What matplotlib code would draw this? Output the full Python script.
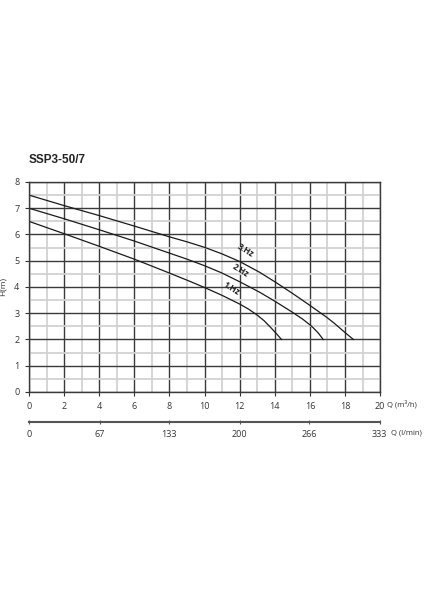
import matplotlib.pyplot as plt
from matplotlib.ticker import MultipleLocator

plt.rcParams['font.family'] = ['Open Sans', 'DejaVu Sans']

q_1hz = [0, 2, 4, 6, 8, 9, 10, 11, 12, 12.5, 13, 13.4, 13.75, 14.1, 14.38]
h_1hz = [6.5, 6.03, 5.55, 5.06, 4.53, 4.26, 3.98, 3.68, 3.35, 3.16, 2.93, 2.71, 2.47, 2.22, 2.0]

q_2hz = [0, 2, 4, 6, 8, 9, 10, 11, 12, 13.14, 14, 15, 15.6, 16, 16.2, 16.5, 16.76]
h_2hz = [7.0, 6.6, 6.18, 5.75, 5.29, 5.06, 4.81, 4.53, 4.2, 3.8, 3.46, 3.04, 2.77, 2.56, 2.44, 2.23, 2.0]

q_3hz = [0, 2, 4, 6, 8, 9, 10, 11, 12, 13.14, 14, 15, 16, 16.95, 17.35, 17.7, 18.1, 18.48]
h_3hz = [7.5, 7.1, 6.72, 6.32, 5.91, 5.72, 5.51, 5.26, 4.97, 4.56, 4.2, 3.76, 3.3, 2.85, 2.64, 2.44, 2.21, 2.0]

m3h_ticks = [0, 2, 4, 6, 8, 10, 12, 14, 16, 18, 20]
lmin_ticks = [0, 67, 133, 200, 266, 333]

fig = plt.figure(figsize=(4.24, 6.0), dpi=100)
ax = fig.add_axes([0.0684, 0.3467, 0.828, 0.35])

ax.set_xlim(0, 20)
ax.set_ylim(0, 8)
ax.xaxis.set_major_locator(MultipleLocator(2))
ax.xaxis.set_minor_locator(MultipleLocator(1))
ax.yaxis.set_major_locator(MultipleLocator(1))
ax.yaxis.set_minor_locator(MultipleLocator(0.5))
ax.grid(which='minor', color='#d2d2d2', linewidth=1.3)
ax.grid(which='major', color='#3a3a3a', linewidth=1.0)
ax.set_axisbelow(True)
for s in ax.spines.values():
    s.set_color('#3a3a3a')
    s.set_linewidth(1.0)

ax.tick_params(which='major', length=3, width=0.8, color='#333333',
               labelsize=6.5, labelcolor='#333333', pad=4)
ax.tick_params(which='minor', length=0)
ax.set_xticks(m3h_ticks)

for q, h in [(q_1hz, h_1hz), (q_2hz, h_2hz), (q_3hz, h_3hz)]:
    ax.plot(q, h, color='#1a1a1a', linewidth=0.9)

ax.text(12.35, 5.4, '3.Hz', rotation=-32, fontsize=6, fontweight='bold',
        color='#222222', ha='center', va='center')
ax.text(12.05, 4.62, '2.Hz', rotation=-32, fontsize=6, fontweight='bold',
        color='#222222', ha='center', va='center')
ax.text(11.55, 3.95, '1.Hz', rotation=-32, fontsize=6, fontweight='bold',
        color='#222222', ha='center', va='center')

ax.set_ylabel('H(m)', fontsize=6, color='#333333', labelpad=5)
ax.text(0, 8.6, 'SSP3-50/7', fontsize=8.5, fontweight='bold', color='#222222',
        family=['Liberation Sans', 'DejaVu Sans'], ha='left', va='bottom')

ax.text(20.4, -0.45, 'Q (m³/h)', fontsize=5.5, color='#333333', ha='left', va='center')

# second flow scale in l/min
ax2 = ax.secondary_xaxis(-0.143, functions=(lambda x: x * 50 / 3, lambda x: x * 3 / 50))
ax2.set_xticks(lmin_ticks)
ax2.set_xticklabels([str(v) for v in lmin_ticks])
ax2.spines['bottom'].set_color('#555555')
ax2.spines['bottom'].set_linewidth(1.5)
ax2.tick_params(length=3, width=0.8, color='#555555', direction='inout',
                labelsize=6.5, labelcolor='#333333', pad=4)
ax.text(20.6, -1.55, 'Q (l/min)', fontsize=5.5, color='#333333', ha='left', va='center')

fig.savefig('out.png', dpi=100)
